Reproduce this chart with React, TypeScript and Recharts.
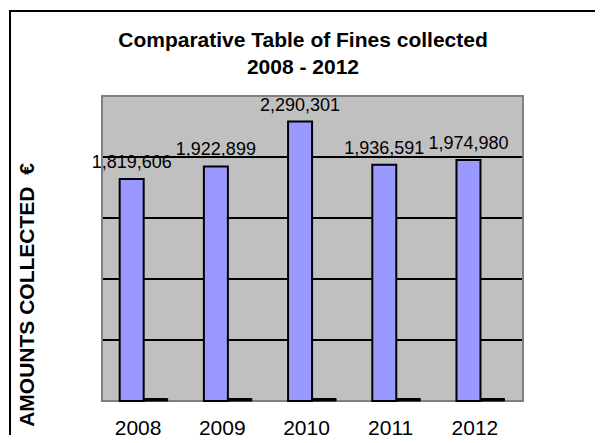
import React from "react";
import { Bar, BarChart, CartesianGrid, LabelList, ReferenceArea, XAxis, YAxis } from "recharts";

const YEARS = ["2008", "2009", "2010", "2011", "2012"];
const AMOUNTS = [1819606, 1922899, 2290301, 1936591, 1974980];
// second series sits on the baseline as a thin black strip
const SECOND = [20000, 20000, 20000, 20000, 20000];
const GRID_TICKS = [500000, 1000000, 1500000, 2000000];

const FONT = '"Liberation Sans", Arial, sans-serif';

const data = YEARS.map((y, i) => ({ year: y, amount: AMOUNTS[i], other: SECOND[i] }));

const fmt = (v: number) => v.toLocaleString("en-US");

export default function App() {
  return (
    <div
      style={{
        position: "relative",
        margin: -8,
        width: 603,
        height: 443,
        overflow: "hidden",
        background: "#fff",
        fontFamily: FONT,
      }}
    >
      <div
        style={{
          position: "absolute",
          left: 9,
          top: 10,
          width: 700,
          height: 600,
          borderTop: "2px solid #000",
          borderLeft: "2px solid #000",
        }}
      />
      <div
        style={{
          position: "absolute",
          left: 0,
          top: 25.5,
          width: 606,
          textAlign: "center",
          fontWeight: 700,
          fontSize: 21,
          lineHeight: "27px",
          color: "#000",
        }}
      >
        <div>Comparative Table of Fines collected</div>
        <div>2008 - 2012</div>
      </div>
      <div
        style={{
          position: "absolute",
          left: 26.5 - 160,
          top: 295 - 12,
          width: 320,
          height: 24,
          lineHeight: "24px",
          textAlign: "center",
          fontWeight: 700,
          fontSize: 21,
          whiteSpace: "pre",
          transform: "rotate(-90deg)",
          color: "#000",
        }}
      >
        AMOUNTS COLLECTED  €
      </div>
      <div style={{ position: "absolute", left: 0, top: 0 }}>
        <BarChart
          width={603}
          height={443}
          data={data}
          margin={{ top: 96, right: 80, left: 102, bottom: 12 }}
          barCategoryGap="21%"
          barGap={0}
        >
          <CartesianGrid vertical={false} stroke="#000" strokeWidth={2} fill="#C0C0C0" fillOpacity={1} />
          <XAxis
            dataKey="year"
            axisLine={false}
            tickLine={false}
            tickSize={6}
            tickMargin={13}
            height={30}
            interval={0}
            tick={{ fill: "#000", fontSize: 21, fontFamily: FONT, dx: -6 }}
          />
          <YAxis hide domain={[0, 2500000]} ticks={GRID_TICKS} />
          <ReferenceArea y1={0} y2={2500000} fill="none" stroke="#808080" strokeWidth={2} />
          <Bar dataKey="amount" fill="#9999FF" stroke="#000" strokeWidth={2} isAnimationActive={false}>
            <LabelList
              dataKey="amount"
              position="top"
              offset={11}
              formatter={(v: any) => fmt(Number(v))}
              style={{ fill: "#000", fontSize: 18, fontFamily: FONT }}
            />
          </Bar>
          <Bar dataKey="other" fill="#000" stroke="#000" strokeWidth={1} isAnimationActive={false} />
        </BarChart>
      </div>
    </div>
  );
}
